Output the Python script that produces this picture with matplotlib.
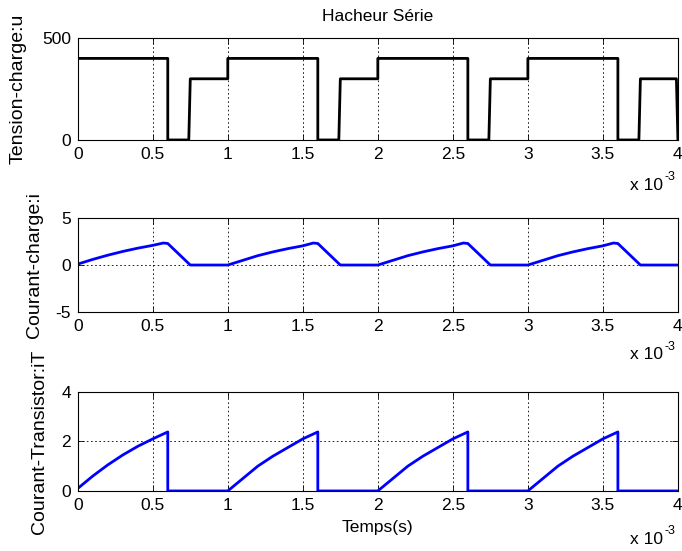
import numpy as np
import matplotlib.pyplot as plt

plt.rcParams['font.family'] = ['Liberation Sans', 'DejaVu Sans']
plt.rcParams['font.size'] = 12.5
plt.rcParams['axes.unicode_minus'] = False

# time axis in units of 1e-3 s
t_u = [0, 0.6, 0.6, 0.74, 0.75, 1.0, 1.0, 1.6, 1.6, 1.74, 1.75, 2.0, 2.0, 2.6, 2.6,
       2.74, 2.75, 3.0, 3.0, 3.6, 3.6, 3.74, 3.75, 3.99, 4.0]
u = [400, 400, 0, 0, 300, 300, 400, 400, 0, 0, 300, 300, 400, 400, 0,
     0, 300, 300, 400, 400, 0, 0, 300, 300, 0]

t_i = [0, 0.1, 0.2, 0.3, 0.4, 0.5, 0.57, 0.6, 0.75, 1.0,
       1.1, 1.2, 1.3, 1.4, 1.5, 1.57, 1.6, 1.75, 2.0,
       2.1, 2.2, 2.3, 2.4, 2.5, 2.57, 2.6, 2.75, 3.0,
       3.1, 3.2, 3.3, 3.4, 3.5, 3.57, 3.6, 3.75, 4.0]
i_load = [0.1, 0.6, 1.05, 1.45, 1.8, 2.1, 2.35, 2.3, 0, 0,
          0.5, 1.0, 1.4, 1.75, 2.05, 2.35, 2.3, 0, 0,
          0.5, 1.0, 1.4, 1.75, 2.05, 2.35, 2.3, 0, 0,
          0.5, 1.0, 1.4, 1.75, 2.05, 2.35, 2.3, 0, 0]

t_iT = [0, 0.1, 0.2, 0.3, 0.4, 0.5, 0.6, 0.6, 1.0,
        1.1, 1.2, 1.3, 1.4, 1.5, 1.6, 1.6, 2.0,
        2.1, 2.2, 2.3, 2.4, 2.5, 2.6, 2.6, 3.0,
        3.1, 3.2, 3.3, 3.4, 3.5, 3.6, 3.6, 4.0]
i_T = [0.1, 0.6, 1.05, 1.45, 1.8, 2.1, 2.38, 0, 0,
       0.5, 1.0, 1.4, 1.75, 2.1, 2.38, 0, 0,
       0.5, 1.0, 1.4, 1.75, 2.1, 2.38, 0, 0,
       0.5, 1.0, 1.4, 1.75, 2.1, 2.38, 0, 0]

xticks = [0, 0.5, 1, 1.5, 2, 2.5, 3, 3.5, 4]
xlabels = ['0', '0.5', '1', '1.5', '2', '2.5', '3', '3.5', '4']

fig = plt.figure(figsize=(6.82, 5.51), dpi=100)
L, W = 0.114, 0.880
ax1 = fig.add_axes([L, 0.746, W, 0.185])
ax2 = fig.add_axes([L, 0.434, W, 0.170])
ax3 = fig.add_axes([L, 0.109, W, 0.180])

ax1.plot(t_u, u, color='black', lw=2)
ax2.plot(t_i, i_load, color='blue', lw=2)
ax3.plot(t_iT, i_T, color='blue', lw=2)

ax1.set_ylim(0, 500)
ax1.set_yticks([0, 500])
ax2.set_ylim(-5, 5)
ax2.set_yticks([-5, 0, 5])
ax3.set_ylim(0, 4)
ax3.set_yticks([0, 2, 4])

ax1.set_title('Hacheur Série', fontsize=12.5, pad=12)
ax1.set_ylabel('Tension-charge:u', fontsize=14)
ax2.set_ylabel('Courant-charge:i', fontsize=14)
ax3.set_ylabel('Courant-Transistor:iT', fontsize=14)
ax3.set_xlabel('Temps(s)', labelpad=5)
ax1.yaxis.set_label_coords(-0.085, 0.5)
ax2.yaxis.set_label_coords(-0.058, 0.5)
ax3.yaxis.set_label_coords(-0.05, 0.5)

for ax, ty in ((ax1, -0.37), (ax2, -0.38), (ax3, -0.41)):
    ax.set_xlim(0, 4)
    ax.set_xticks(xticks)
    ax.set_xticklabels(xlabels)
    ax.grid(True, color='black', linestyle=(0, (2, 3)), linewidth=0.6)
    ax.tick_params(direction='in', length=4, width=0.6, top=True, right=True, pad=5)
    for s in ax.spines.values():
        s.set_linewidth(0.8)
    ax.annotate('x 10', xy=(1.0, ty), xycoords='axes fraction',
                xytext=(-11, 0), textcoords='offset points',
                ha='right', va='top', fontsize=12.5)
    ax.annotate('-3', xy=(1.0, ty), xycoords='axes fraction',
                xytext=(-2, 5), textcoords='offset points',
                ha='right', va='top', fontsize=9)

fig.savefig('out.png', dpi=100)
